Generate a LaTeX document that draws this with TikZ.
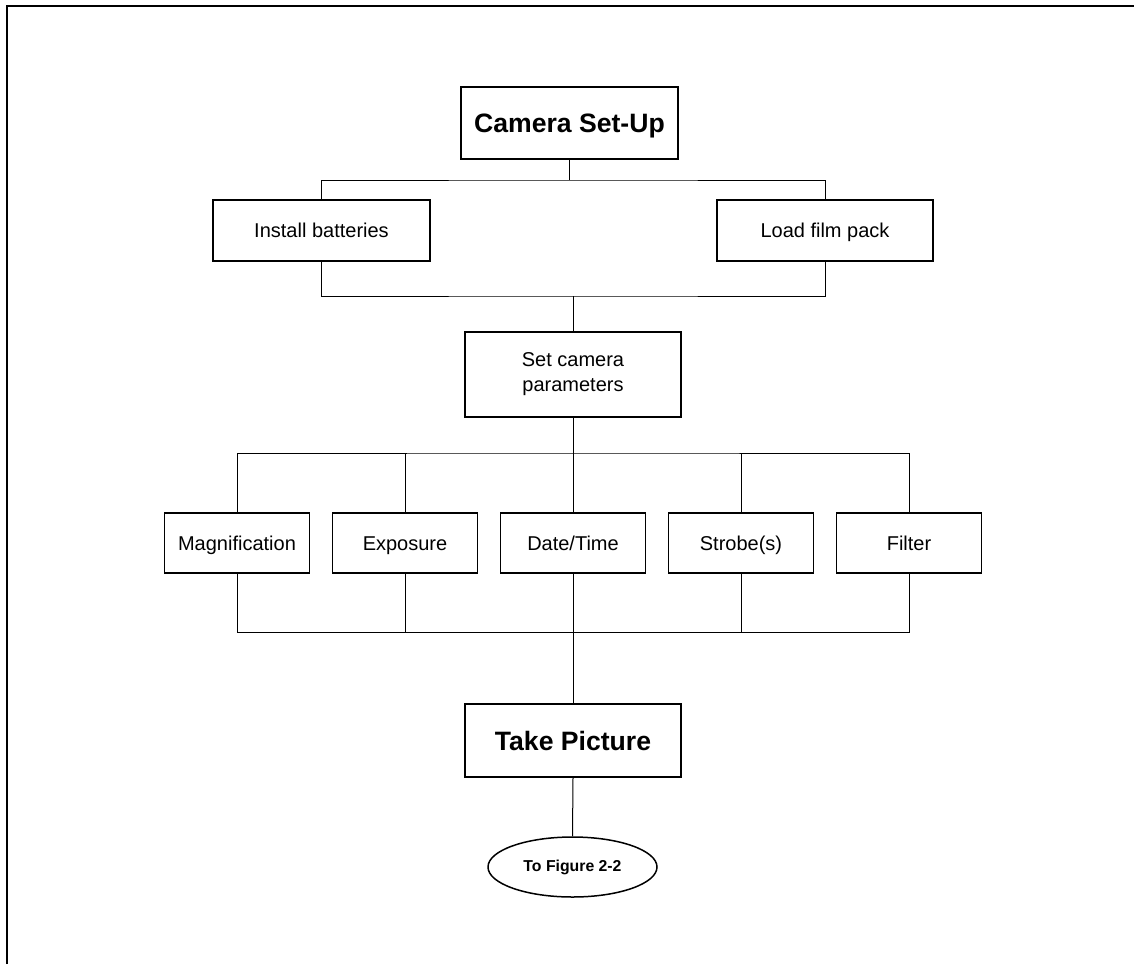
\documentclass[tikz,border=0pt]{standalone}
\usepackage{fontspec}
\setmainfont{Liberation Sans}
\usetikzlibrary{shapes.geometric}
\begin{document}
\begin{tikzpicture}[x=1pt,y=-1pt,
  box/.style={draw,line width=1.8pt,inner sep=0pt,minimum width=#1},
  box/.default=216pt,
  conn/.style={line width=1pt},
  normal/.style={font=\fontsize{20}{25}\selectfont,text height=18pt,text depth=4pt},
  twoline/.style={font=\fontsize{20}{25}\selectfont,align=center},
  big/.style={font=\fontsize{26.6}{30}\selectfont\bfseries,text height=25pt,text depth=6pt},
]
\useasboundingbox (0,0) rectangle (1134,964);
\draw[line width=2pt] (7,964) -- (7,6) -- (1134,6);

\node[box=217pt,minimum height=72pt,big] (setup) at (569.5,123) {Camera Set-Up};
\node[box=217pt,minimum height=61pt,normal] (batt) at (321.5,230.5) {Install batteries};
\node[box=216pt,minimum height=61pt,normal] (film) at (825,230.5) {Load film pack};
\node[box=216pt,minimum height=85pt,twoline] (params) at (573,374.5) {Set camera\\parameters};

\node[box=145pt,minimum height=60pt,normal] (mag) at (237,543) {Magnification};
\node[box=145pt,minimum height=60pt,normal] (expo) at (405,543) {Exposure};
\node[box=145pt,minimum height=60pt,normal] (date) at (573,543) {Date/Time};
\node[box=145pt,minimum height=60pt,normal] (strobe) at (741,543) {Strobe(s)};
\node[box=145pt,minimum height=60pt,normal] (filt) at (909,543) {Filter};

\node[box=216pt,minimum height=73pt,big] (take) at (573,740.5) {Take Picture};
\node[draw,ellipse,line width=1.5pt,inner sep=0pt,minimum width=169pt,minimum height=60pt,
  font=\fontsize{15.8}{18}\selectfont\bfseries] (fig) at (572.5,867) {To Figure 2-2};

\coordinate (j1) at (573,180);
\coordinate (j2) at (573,296);
\coordinate (j3) at (573,453);
\coordinate (j4) at (573,632);

\draw[conn] (setup.south) -- (setup.south |- j1);
\draw[conn] (batt.north) |- (j1) -| (film.north);
\draw[conn] (batt.south) |- (j2) -| (film.south);
\draw[conn] (j2) -- (params.north);
\draw[conn] (params.south) -- (date.north);
\draw[conn] (mag.north) |- (j3) -| (filt.north);
\draw[conn] (expo.north) -- (expo.north |- j3);
\draw[conn] (strobe.north) -- (strobe.north |- j3);
\draw[conn] (mag.south) |- (j4) -| (filt.south);
\draw[conn] (expo.south) -- (expo.south |- j4);
\draw[conn] (strobe.south) -- (strobe.south |- j4);
\draw[conn] (date.south) -- (take.north);
\draw[conn] (take.south) -- (fig.north);
\end{tikzpicture}
\end{document}
